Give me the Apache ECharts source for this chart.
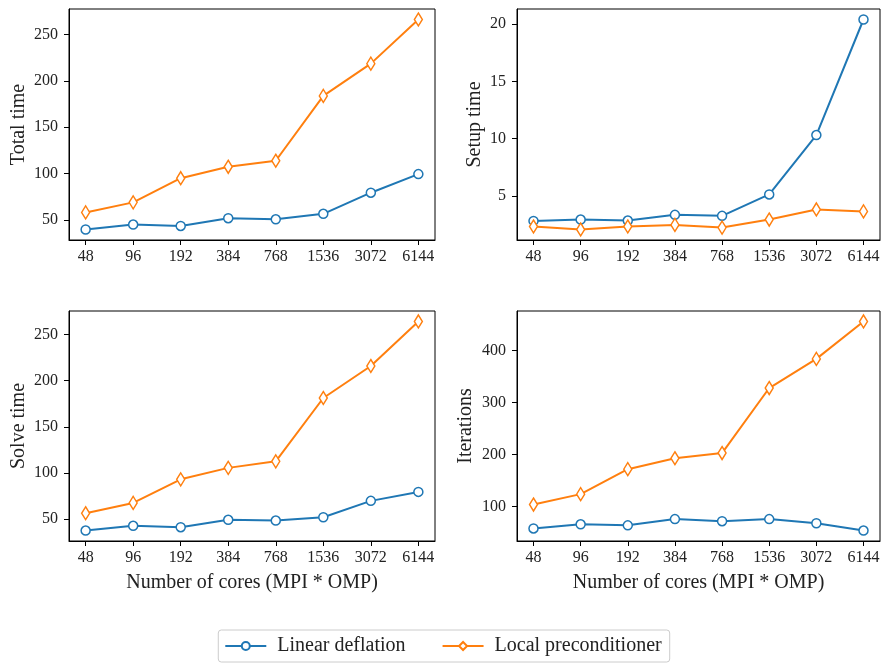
<!DOCTYPE html>
<html>
<head>
<meta charset="utf-8">
<script src="https://cdn.jsdelivr.net/npm/echarts@6/dist/echarts.min.js"></script>
<style>
html,body{margin:0;padding:0;background:#fff;}
#c{width:886px;height:664px;}
</style>
</head>
<body>
<div id="c"></div>
<script>
const cores = ['48','96','192','384','768','1536','3072','6144'];
const seriesNames = ['Linear deflation','Local preconditioner'];

const totalLinear = [40.0, 45.3, 43.8, 52.2, 51.0, 56.9, 79.6, 99.6];
const totalLocal  = [58.4, 69.2, 95.2, 107.5, 114.0, 183.8, 218.5, 266.0];

const setupLinear = [2.81, 2.93, 2.84, 3.34, 3.25, 5.12, 10.31, 20.40];
const setupLocal  = [2.32, 2.06, 2.32, 2.46, 2.23, 2.93, 3.81, 3.64];

const solveLinear = [37.8, 42.9, 41.4, 49.4, 48.6, 52.2, 69.9, 79.6];
const solveLocal  = [56.5, 67.7, 93.2, 105.6, 112.7, 181.2, 215.8, 264.0];

const iterLinear = [58, 66, 64, 76, 72, 76, 68, 54];
const iterLocal  = [104, 124, 172, 193, 203, 328, 384, 456];

const totalTicks = [50, 100, 150, 200, 250];
const setupTicks = [5, 10, 15, 20];
const solveTicks = [50, 100, 150, 200, 250];
const iterTicks  = [100, 200, 300, 400];

const panels = [
  {name:'Total time', a: totalLinear, b: totalLocal, ticks: totalTicks, grid:{left:69, top:9, width:366, height:231}, gap:40, xname:''},
  {name:'Setup time', a: setupLinear, b: setupLocal, ticks: setupTicks, grid:{left:517, top:9, width:363, height:231}, gap:32, xname:''},
  {name:'Solve time', a: solveLinear, b: solveLocal, ticks: solveTicks, grid:{left:69, top:311, width:366, height:230}, gap:40, xname:'Number of cores (MPI * OMP)'},
  {name:'Iterations', a: iterLinear, b: iterLocal, ticks: iterTicks, grid:{left:517, top:311, width:363, height:230}, gap:41, xname:'Number of cores (MPI * OMP)'}
];

const FONT = 'Liberation Serif';
const blue = '#1f77b4', orange = '#ff7f0e';

const grids = [], xAxes = [], yAxes = [], series = [];
panels.forEach((p, i) => {
  const all = p.a.concat(p.b);
  const lo = Math.min(...all), hi = Math.max(...all);
  const m = (hi - lo) * 0.05;
  grids.push(Object.assign({show:true, borderColor:'#000', borderWidth:1, backgroundColor:'transparent'}, p.grid));
  xAxes.push({
    type:'value', gridIndex:i, min:-0.35, max:7.35,
    name:p.xname, nameLocation:'middle', nameGap:32,
    nameTextStyle:{fontFamily:FONT, fontSize:20, color:'#222'},
    axisLine:{show:true, onZero:false, lineStyle:{color:'#000', width:1}},
    axisTick:{show:true, customValues:[0,1,2,3,4,5,6,7], length:5, lineStyle:{color:'#000'}},
    axisLabel:{customValues:[0,1,2,3,4,5,6,7], formatter:v => cores[Math.round(v)], fontFamily:FONT, fontSize:16, color:'#222', margin:9},
    splitLine:{show:false}
  });
  yAxes.push({
    type:'value', gridIndex:i, min:lo - m, max:hi + m,
    name:p.name, nameLocation:'middle', nameGap:p.gap, nameRotate:90,
    nameTextStyle:{fontFamily:FONT, fontSize:20, color:'#222'},
    axisLine:{show:true, onZero:false, lineStyle:{color:'#000', width:1}},
    axisTick:{show:true, customValues:p.ticks, length:5, lineStyle:{color:'#000'}},
    axisLabel:{customValues:p.ticks, fontFamily:FONT, fontSize:16, color:'#222', margin:11},
    splitLine:{show:false}
  });
  series.push({
    name:seriesNames[0], type:'line', xAxisIndex:i, yAxisIndex:i,
    data:p.a.map((v,k)=>[k,v]), symbol:'circle', symbolSize:9,
    lineStyle:{color:blue, width:2}, itemStyle:{color:'#fff', borderColor:blue, borderWidth:1.5},
    z:2
  });
  series.push({
    name:seriesNames[1], type:'line', xAxisIndex:i, yAxisIndex:i,
    data:p.b.map((v,k)=>[k,v]), symbol:'diamond', symbolSize:[8,13],
    lineStyle:{color:orange, width:2}, itemStyle:{color:'#fff', borderColor:orange, borderWidth:1.5},
    z:3
  });
});

const chart = echarts.init(document.getElementById('c'), null, {renderer:'canvas'});
chart.setOption({
  animation:false,
  backgroundColor:'#fff',
  grid:grids, xAxis:xAxes, yAxis:yAxes, series:series,
  legend:{
    data:seriesNames,
    left:'center', top:630,
    itemWidth:41, itemHeight:10, itemGap:36,
    padding:[6,8,6,6],
    borderColor:'#ccc', borderWidth:1, borderRadius:3,
    textStyle:{fontFamily:FONT, fontSize:20, color:'#222', padding:[0,0,0,6]}
  }
});
</script>
</body>
</html>
